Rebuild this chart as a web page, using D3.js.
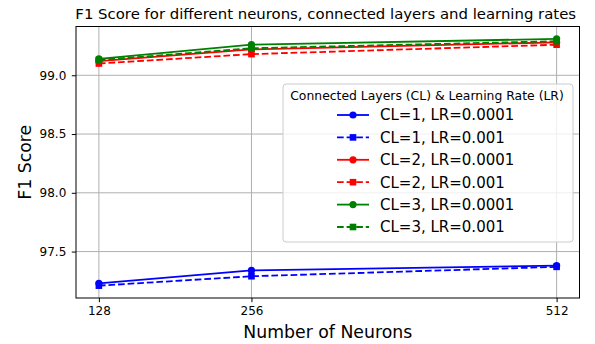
<!DOCTYPE html>
<html>
<head>
<meta charset="utf-8">
<script src="https://cdn.jsdelivr.net/npm/d3@7"></script>
<style>
  html, body { margin: 0; padding: 0; background: #fff; }
  svg { display: block; font-family: "DejaVu Sans", sans-serif; }
</style>
</head>
<body>
<svg id="chart" width="595" height="344"></svg>
<script>
// Neuron counts on the x axis
const neurons = [128, 256, 512];
const xTicks = [128, 256, 512];
const yTicks = [97.5, 98.0, 98.5, 99.0];

// F1 scores per configuration
const cl1_lr0001 = [97.23, 97.34, 97.38];
const cl1_lr001  = [97.21, 97.29, 97.37];
const cl2_lr0001 = [99.12, 99.22, 99.28];
const cl2_lr001  = [99.10, 99.18, 99.26];
const cl3_lr0001 = [99.14, 99.26, 99.31];
const cl3_lr001  = [99.13, 99.23, 99.29];

const seriesLabels = [
  "CL=1, LR=0.0001", "CL=1, LR=0.001",
  "CL=2, LR=0.0001", "CL=2, LR=0.001",
  "CL=3, LR=0.0001", "CL=3, LR=0.001"
];

const series = [
  { label: seriesLabels[0], values: cl1_lr0001, color: "#0000ff", dashed: false, marker: "circle" },
  { label: seriesLabels[1], values: cl1_lr001,  color: "#0000ff", dashed: true,  marker: "square" },
  { label: seriesLabels[2], values: cl2_lr0001, color: "#ff0000", dashed: false, marker: "circle" },
  { label: seriesLabels[3], values: cl2_lr001,  color: "#ff0000", dashed: true,  marker: "square" },
  { label: seriesLabels[4], values: cl3_lr0001, color: "#008000", dashed: false, marker: "circle" },
  { label: seriesLabels[5], values: cl3_lr001,  color: "#008000", dashed: true,  marker: "square" }
];

const svg = d3.select("#chart");
const plot = { left: 76, right: 579.5, top: 26.5, bottom: 298 };

// Axis domains padded by 5% of the data range on each side
const xExt = d3.extent(neurons);
const xPad = (xExt[1] - xExt[0]) * 0.05;
const allY = series.flatMap(s => s.values);
const yExt = d3.extent(allY);
const yPad = (yExt[1] - yExt[0]) * 0.05;

const x = d3.scaleLinear().domain([xExt[0] - xPad, xExt[1] + xPad]).range([plot.left, plot.right]);
const y = d3.scaleLinear().domain([yExt[0] - yPad, yExt[1] + yPad]).range([plot.bottom, plot.top]);

const DASH = "6.7,2.9";
const LW = 1.8;

// Grid
const grid = svg.append("g").attr("stroke", "#b0b0b0").attr("stroke-width", 1);
grid.selectAll("line.gx").data(xTicks).enter().append("line")
  .attr("x1", d => x(d)).attr("x2", d => x(d))
  .attr("y1", plot.top).attr("y2", plot.bottom);
grid.selectAll("line.gy").data(yTicks).enter().append("line")
  .attr("x1", plot.left).attr("x2", plot.right)
  .attr("y1", d => y(d)).attr("y2", d => y(d));

// Axes
const xAxis = d3.axisBottom(x).tickValues(xTicks).tickSize(4.2).tickPadding(4).tickFormat(d3.format("d"));
const yAxis = d3.axisLeft(y).tickValues(yTicks).tickSize(4.2).tickPadding(5.5).tickFormat(d3.format(".1f"));

const gx = svg.append("g").attr("transform", `translate(0,${plot.bottom})`).call(xAxis);
const gy = svg.append("g").attr("transform", `translate(${plot.left},0)`).call(yAxis);
[gx, gy].forEach(g => {
  g.select(".domain").remove();
  g.selectAll("text").attr("font-family", "DejaVu Sans").attr("font-size", 12).attr("fill", "#000");
  g.selectAll("line").attr("stroke", "#000").attr("stroke-width", 1);
});

// Lines and markers
const line = d3.line().x((d, i) => x(neurons[i])).y(d => y(d));
const sym = { circle: d3.symbolCircle, square: d3.symbolSquare };
const markerSize = { circle: Math.PI * 3.6 * 3.6, square: 6.6 * 6.6 };

series.forEach(s => {
  const g = svg.append("g");
  g.append("path").datum(s.values)
    .attr("d", line)
    .attr("fill", "none")
    .attr("stroke", s.color)
    .attr("stroke-width", LW)
    .attr("stroke-dasharray", s.dashed ? DASH : null);
  g.selectAll("path.m").data(s.values).enter().append("path")
    .attr("class", "m")
    .attr("d", d3.symbol().type(sym[s.marker]).size(markerSize[s.marker]))
    .attr("transform", (d, i) => `translate(${x(neurons[i])},${y(d)})`)
    .attr("fill", s.color);
});

// Frame
svg.append("rect")
  .attr("x", plot.left).attr("y", plot.top)
  .attr("width", plot.right - plot.left).attr("height", plot.bottom - plot.top)
  .attr("fill", "none").attr("stroke", "#000").attr("stroke-width", 1);

// Title and axis labels
svg.append("text")
  .attr("x", (plot.left + plot.right) / 2 - 2).attr("y", 19)
  .attr("text-anchor", "middle").attr("font-size", 14.9)
  .text("F1 Score for different neurons, connected layers and learning rates");

svg.append("text")
  .attr("x", (plot.left + plot.right) / 2).attr("y", 338)
  .attr("text-anchor", "middle").attr("font-size", 17.3)
  .text("Number of Neurons");

svg.append("text")
  .attr("transform", `translate(31,${(plot.top + plot.bottom) / 2}) rotate(-90)`)
  .attr("text-anchor", "middle").attr("font-size", 17.3)
  .text("F1 Score");

// Legend
const lg = svg.append("g");
lg.append("rect")
  .attr("x", 283).attr("y", 84).attr("width", 290).attr("height", 158)
  .attr("rx", 3).attr("ry", 3)
  .attr("fill", "#fff").attr("fill-opacity", 0.8)
  .attr("stroke", "#cccccc").attr("stroke-width", 1);
lg.append("text")
  .attr("x", 427).attr("y", 99.5)
  .attr("text-anchor", "middle").attr("font-size", 12.4)
  .text("Connected Layers (CL) & Learning Rate (LR)");

series.forEach((s, i) => {
  const cy = 115 + i * 22.4;
  const row = lg.append("g");
  row.append("line")
    .attr("x1", 337).attr("x2", 369).attr("y1", cy).attr("y2", cy)
    .attr("stroke", s.color).attr("stroke-width", LW)
    .attr("stroke-dasharray", s.dashed ? DASH : null);
  row.append("path")
    .attr("d", d3.symbol().type(sym[s.marker]).size(markerSize[s.marker]))
    .attr("transform", `translate(353,${cy})`)
    .attr("fill", s.color);
  row.append("text")
    .attr("x", 380).attr("y", cy + 5.4)
    .attr("font-size", 15)
    .text(s.label);
});
</script>
</body>
</html>
